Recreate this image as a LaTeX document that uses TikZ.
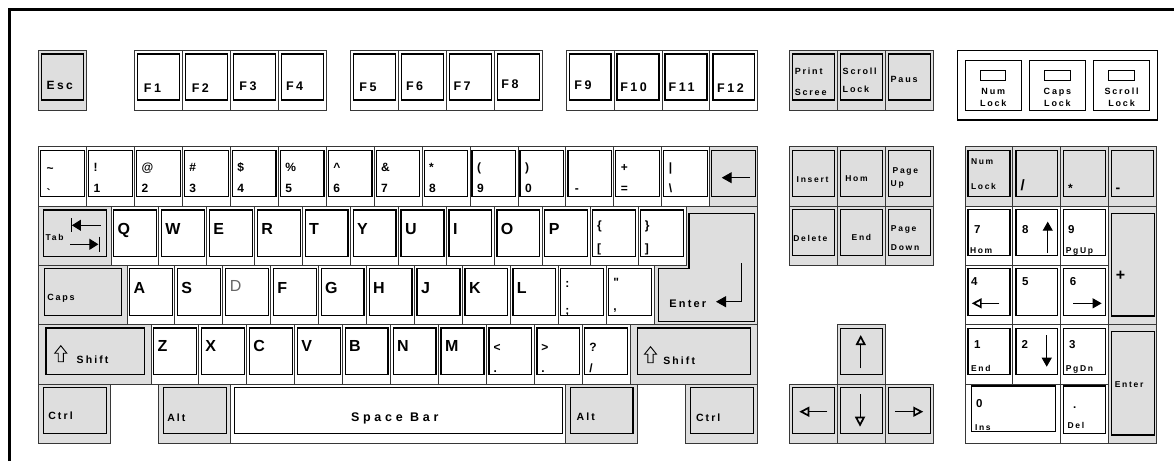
\documentclass[tikz,border=0pt]{standalone}
\usepackage{fontspec}
\setmainfont{Liberation Sans}[LetterSpace=20]
\usetikzlibrary{arrows.meta}
\definecolor{kg}{RGB}{222,222,222}
\definecolor{kline}{RGB}{55,55,55}
\newcounter{lc}
\def\U{47.93}
\def\RH{59.3}
\def\insL{3}\def\insT{3.5}\def\insR{3}\def\insB{9.5}
\newcommand\setins[4]{\def\insL{#1}\def\insT{#2}\def\insR{#3}\def\insB{#4}}
\newcommand\kb[6]{%
  \node[keyout, fill=#6, minimum width={#4pt}, minimum height={#5pt}] (#1) at ({#2},{#3}) {};
  \path[keyin, fill=#6] ([shift={(\insL,\insT)}]#1.north west) rectangle ([shift={(-\insR,-\insB)}]#1.south east);}
\newcommand\lb[5][]{\stepcounter{lc}\node[lbl=#2,#1] (t\arabic{lc}) at ([shift={(#4)}]#3.north west) {#5};}
\begin{document}
\begin{tikzpicture}[x=1pt,y=-1pt,
  keyout/.style={draw=kline, line width=0.9pt, rectangle, inner sep=0pt, outer sep=0pt, anchor=north west},
  keyin/.style={draw=black, line width=1.2pt},
  lbl/.style={inner sep=0pt, outer sep=0pt, anchor=west, font=\fontsize{#1}{#1}\selectfont\bfseries, text height={0.716*#1pt}, text depth=0pt},
  arr/.style={line width=1pt, -{Triangle[length=9pt,width=10pt]}},
  oarr/.style={line width=1pt, -{Triangle[open,length=10pt,width=10pt,line width=1.7pt]}},
  bar/.style={line width=1pt},
  ledbox/.style={draw=black, rectangle, inner sep=0pt, outer sep=0pt},
]
\useasboundingbox (0,0) rectangle (1174,461);
\fill[white] (0,0) rectangle (1174,461);
% frame
\draw[line width=3pt, line join=miter] (9.5,461) -- (9.5,9.5) -- (1174,9.5);

% ---------- top row ----------
\setins{3}{3.3}{3}{10}
\kb{esc}{38.7}{50.7}{\U}{\RH}{kg}
\lb{12}{esc}{8,35}{Esc}
\foreach \i/\dx/\dy in {1/9.3/37,2/9.3/37.3,3/9/35.3,4/7.7/35.3}
  {\kb{f\i}{134.6+(\i-1)*\U}{50.7}{\U}{\RH}{white}\lb{12.5}{f\i}{\dx,\dy}{F\i}}
\foreach \i/\dx/\dy in {5/9/36,6/7.7/35.3,7/7.3/35.3,8/7.3/33.6}
  {\kb{f\i}{350.4+(\i-5)*\U}{50.7}{\U}{\RH}{white}\lb{12.5}{f\i}{\dx,\dy}{F\i}}
\foreach \i/\dx/\dy in {9/8.3/34.8,10/6.3/36.6,11/6.7/36.6,12/7.3/37.3}
  {\kb{f\i}{566.1+(\i-9)*\U}{50.7}{\U}{\RH}{white}\lb{12.5}{f\i}{\dx,\dy}{F\i}}
\kb{prt}{789.3}{50.7}{\U}{\RH}{kg}
\lb{9}{prt}{5.5,20.3}{Print}\lb{9}{prt}{5.5,41.6}{Scree}
\kb{scrl}{789.3+\U}{50.7}{\U}{\RH}{kg}
\lb{9}{scrl}{5.5,20.3}{Scroll}\lb{9}{scrl}{5.5,38.6}{Lock}
\kb{paus}{789.3+2*\U}{50.7}{\U}{\RH}{kg}
\lb{9}{paus}{5.5,29}{Paus}

% lock indicator panel
\node[ledbox, line width=1.1pt, anchor=north west, minimum width=200pt, minimum height=69.3pt] (lp) at (957.3,50.7) {};
\foreach \i/\a/\b in {0/Num/Lock,1/Caps/Lock,2/Scroll/Lock}{
  \node[ledbox, line width=1pt, anchor=north west, minimum width=56.5pt, minimum height=50.7pt] (lbox\i) at ({965+\i*64.15},60) {};
  \node[ledbox, line width=0.9pt, anchor=north, minimum width=25.3pt, minimum height=10.7pt] (led\i) at ([yshift=-10pt]lbox\i.north) {};
  \node[lbl=9, anchor=center] (la\i) at ([yshift=-31pt]lbox\i.north) {\a};
  \node[lbl=9, anchor=center] (lbb\i) at ([yshift=-43.5pt]lbox\i.north) {\b};
}

% ---------- number row ----------
\setins{2}{4}{2.3}{9.3}
\kb{n0}{38.7}{146.7}{\U}{\RH}{white}
\lb{12}{n0}{8,21}{\textasciitilde}
\lb{12}{n0}{8,46}{\textasciigrave}
\foreach \i/\tA/\tB in {1/!/1,2/@/2,3/\#/3,4/\$/4,5/\%/5,6/\textasciicircum/6,7/\&/7,8/*/8,9/{(}/9,10/{)}/0,12/+/=,13/|/\textbackslash}
  {\kb{n\i}{38.7+\i*\U}{146.7}{\U}{\RH}{white}\lb{12}{n\i}{7,20}{\tA}\lb{12}{n\i}{7,41.5}{\tB}}
\kb{n11}{38.7+11*\U}{146.7}{\U}{\RH}{white}
\lb{12}{n11}{9,41.5}{-}
\kb{bksp}{38.7+14*\U}{146.7}{\U}{\RH}{kg}
\draw[line width=1pt, -{Triangle[length=10pt,width=11pt]}] ([shift={(40.3,31)}]bksp.north west) -- ([shift={(12,31)}]bksp.north west);

% ---------- tab row ----------
\setins{4.6}{4}{4.3}{8.7}
\kb{tab}{38.7}{206}{72.3}{\RH}{kg}
\lb{8.5}{tab}{7,31.5}{Tab}
\draw[bar] ([shift={(32.6,12.3)}]tab.north west) -- ([shift={(32.6,26.3)}]tab.north west);
\draw[line width=1pt, -{Triangle[length=9pt,width=11pt]}] ([shift={(62,19.3)}]tab.north west) -- ([shift={(33.2,19.3)}]tab.north west);
\draw[bar] ([shift={(60.3,30.7)}]tab.north west) -- ([shift={(60.3,45.7)}]tab.north west);
\draw[line width=1pt, -{Triangle[length=9pt,width=11pt]}] ([shift={(31.3,38.3)}]tab.north west) -- ([shift={(59.7,38.3)}]tab.north west);
\setins{2.5}{4}{2.6}{8.7}
\foreach \i/\c in {0/Q,1/W,2/E,3/R,4/T,5/Y,6/U,7/I,8/O,9/P}
  {\kb{k\c}{111+\i*\U}{206}{\U}{\RH}{white}\lb{16}{k\c}{6.5,23}{\c}}
\kb{lbrk}{111+10*\U}{206}{\U}{\RH}{white}
\lb{12}{lbrk}{6.7,19}{\{}\lb{12}{lbrk}{6.7,42.3}{[}
\kb{rbrk}{111+11*\U}{206}{\U}{\RH}{white}
\lb{12}{rbrk}{6.7,19}{\}}\lb{12}{rbrk}{6.7,42.3}{]}
% Enter
\path[draw=kline, line width=0.9pt, fill=kg] (686.2,206) -- (757.7,206) -- (757.7,324.7) -- (654.2,324.7) -- (654.2,265.3) -- (686.2,265.3) -- cycle;
\path[keyin, fill=kg] (689,213.3) -- (754.7,213.3) -- (754.7,321.5) -- (658.2,321.5) -- (658.2,268.3) -- (689,268.3) -- cycle;
\coordinate (entc) at (741,263.3);
\coordinate (entm) at (741,301.7);
\coordinate (entt) at (716,301.7);
\draw[line width=1pt, -{Triangle[length=10pt,width=11pt]}] (entc) -- (entm) -- (entt);
\node[lbl=11] (entl) at (669.3,303.3) {Enter};

% ---------- caps row ----------
\setins{5.6}{3.5}{5.3}{9}
\kb{caps}{38.7}{265.3}{88.3}{\RH}{kg}
\lb{9}{caps}{8.6,31.7}{Caps}
\setins{2.5}{3.5}{2.6}{9}
\foreach \i/\c in {0/A,1/S,3/F,4/G,5/H,6/J,7/K,8/L}
  {\kb{k\c}{127+\i*\U}{265.3}{\U}{\RH}{white}\lb{16}{k\c}{6.5,22}{\c}}
\kb{kD}{127+2*\U}{265.3}{\U}{\RH}{white}
\lb[font=\fontsize{16}{16}\selectfont, text=black!60]{16}{kD}{7,20.5}{D}
\kb{semi}{127+9*\U}{265.3}{\U}{\RH}{white}
\lb{12}{semi}{7,18}{:}\lb{12}{semi}{7,44.7}{;}
\kb{quot}{127+10*\U}{265.3}{\U}{\RH}{white}
\lb{12}{quot}{7,17}{\textquotedbl}\lb{12}{quot}{7,41.3}{,}

% ---------- shift row ----------
\setins{7.3}{3.3}{6.7}{9.3}
\kb{lsh}{38.7}{324.7}{112.3}{\RH}{kg}
\draw[line width=0.9pt, shift={(lsh.north west)}] (22.1,21) -- ++(6,7.5) -- ++(-3.4,0) -- ++(0,8.5) -- ++(-5.2,0) -- ++(0,-8.5) -- ++(-3.4,0) -- cycle;
\lb{10.5}{lsh}{38,35}{Shift}
\setins{2.5}{3.3}{2.6}{9.3}
\foreach \i/\c in {0/Z,1/X,2/C,3/V,4/B,5/N,6/M}
  {\kb{k\c}{151+\i*\U}{324.7}{\U}{\RH}{white}\lb{16}{k\c}{6.5,21.5}{\c}}
\foreach \i/\tA/\tB in {7/{<}/{.},8/{>}/{.},9/{?}/{/}}
  {\kb{p\i}{151+\i*\U}{324.7}{\U}{\RH}{white}\lb{12}{p\i}{7,22}{\tA}\lb{12}{p\i}{7,43.6}{\tB}}
\setins{7.5}{3.3}{7}{9.3}
\kb{rsh}{630.3}{324.7}{127.4}{\RH}{kg}
\draw[line width=0.9pt, shift={(rsh.north west)}] (20.2,22) -- ++(6,7.5) -- ++(-3.4,0) -- ++(0,8.5) -- ++(-5.2,0) -- ++(0,-8.5) -- ++(-3.4,0) -- cycle;
\lb{10.5}{rsh}{33,36.3}{Shift}

% ---------- bottom row ----------
\setins{4.6}{3.3}{4.3}{10}
\kb{lctl}{38.7}{384}{72}{\RH}{kg}
\lb{10.5}{lctl}{9.6,31.5}{Ctrl}
\kb{lalt}{158.7}{384}{72}{\RH}{kg}
\lb{10.5}{lalt}{8.6,33.5}{Alt}
\setins{3.6}{3.3}{3}{10}
\kb{space}{230.7}{384}{335}{\RH}{white}
\lb[anchor=center]{12.5}{space}{164,32.8}{\addfontfeatures{LetterSpace=30}Space Bar}
\setins{4.6}{3.3}{4.3}{10}
\kb{ralt}{565.7}{384}{71.6}{\RH}{kg}
\lb{10.5}{ralt}{11,32.7}{Alt}
\kb{rctl}{685.7}{384}{72}{\RH}{kg}
\lb{10.5}{rctl}{10.3,33.5}{Ctrl}

% ---------- navigation cluster ----------
\setins{3}{3.5}{3}{9.5}
\kb{insk}{789.3}{146.7}{\U}{\RH}{kg}
\lb{8.5}{insk}{7.4,32.3}{Insert}
\kb{homk}{789.3+\U}{146.7}{\U}{\RH}{kg}
\lb{8.5}{homk}{8.1,32}{Hom}
\kb{pgup}{789.3+2*\U}{146.7}{\U}{\RH}{kg}
\lb{8.5}{pgup}{7.5,24}{Page}\lb{8.5}{pgup}{5.5,36.3}{Up}
\kb{delk}{789.3}{206}{\U}{\RH}{kg}
\lb{8.5}{delk}{4,32.8}{Delete}
\kb{endk}{789.3+\U}{206}{\U}{\RH}{kg}
\lb{8.5}{endk}{14.5,31.3}{End}
\kb{pgdn}{789.3+2*\U}{206}{\U}{\RH}{kg}
\lb{8.5}{pgdn}{5.8,22.3}{Page}\lb{8.5}{pgdn}{5.8,41.3}{Down}

% arrow keys
\kb{upk}{789.3+\U}{324.7}{\U}{\RH}{kg}
\kb{lfk}{789.3}{384}{\U}{\RH}{kg}
\kb{dnk}{789.3+\U}{384}{\U}{\RH}{kg}
\kb{rtk}{789.3+2*\U}{384}{\U}{\RH}{kg}
\draw[oarr] ([shift={(23.5,43.6)}]upk.north west) -- ([shift={(23.5,10.3)}]upk.north west);
\draw[oarr] ([shift={(38,27.7)}]lfk.north west) -- ([shift={(10,27.7)}]lfk.north west);
\draw[oarr] ([shift={(22.8,10.3)}]dnk.north west) -- ([shift={(22.8,42.7)}]dnk.north west);
\draw[oarr] ([shift={(9.8,27.7)}]rtk.north west) -- ([shift={(38.1,27.7)}]rtk.north west);

% ---------- numeric keypad ----------
\kb{kpnl}{965}{146.7}{\U}{\RH}{kg}
\lb{8.5}{kpnl}{6,15}{Num}\lb{8.5}{kpnl}{6,39.5}{Lock}
\kb{kpsl}{965+\U}{146.7}{\U}{\RH}{kg}
\lb{15}{kpsl}{7.7,38.6}{/}
\kb{kpst}{965+2*\U}{146.7}{\U}{\RH}{kg}
\lb{12}{kpst}{7.3,41}{*}
\kb{kpmi}{965+3*\U}{146.7}{\U}{\RH}{kg}
\lb{14}{kpmi}{6.7,40.6}{-}
\kb{kp7}{965}{206}{\U}{\RH}{white}
\lb{11.5}{kp7}{9,23.7}{7}\lb{8.5}{kp7}{5,44}{Hom}
\kb{kp8}{965+\U}{206}{\U}{\RH}{white}
\lb{11.5}{kp8}{9.3,23.7}{8}
\draw[arr] ([shift={(34.8,46.7)}]kp8.north west) -- ([shift={(34.8,15.7)}]kp8.north west);
\kb{kp9}{965+2*\U}{206}{\U}{\RH}{white}
\lb{11.5}{kp9}{7.3,23.7}{9}\lb{8.5}{kp9}{5,44}{PgUp}
\kb{kp4}{965}{265.3}{\U}{\RH}{white}
\lb{11.5}{kp4}{6,16}{4}
\draw[oarr] ([shift={(34.3,38)}]kp4.north west) -- ([shift={(6.7,38)}]kp4.north west);
\kb{kp5}{965+\U}{265.3}{\U}{\RH}{white}
\lb{11.5}{kp5}{9.3,16}{5}
\kb{kp6}{965+2*\U}{265.3}{\U}{\RH}{white}
\lb{11.5}{kp6}{9,16}{6}
\draw[arr] ([shift={(12.4,38)}]kp6.north west) -- ([shift={(40.8,38)}]kp6.north west);
\kb{kp1}{965}{324.7}{\U}{\RH}{white}
\lb{11.5}{kp1}{9,19.5}{1}\lb{8.5}{kp1}{6,43.3}{End}
\kb{kp2}{965+\U}{324.7}{\U}{\RH}{white}
\lb{11.5}{kp2}{8.7,19.5}{2}
\draw[arr] ([shift={(33.8,10.3)}]kp2.north west) -- ([shift={(33.8,42)}]kp2.north west);
\kb{kp3}{965+2*\U}{324.7}{\U}{\RH}{white}
\lb{11.5}{kp3}{8.3,19.5}{3}\lb{8.5}{kp3}{5,43.3}{PgDn}
\setins{2.7}{7.3}{2.3}{8.7}
\kb{kppl}{965+3*\U}{206}{\U}{2*\RH}{kg}
\lb[anchor=center]{16}{kppl}{11.7,69}{+}
\setins{2.7}{7}{2.3}{8.3}
\kb{kpen}{965+3*\U}{324.7}{\U}{2*\RH}{kg}
\lb{8.5}{kpen}{6,59.5}{Enter}
\setins{6.7}{2}{5}{11.6}
\kb{kp0}{965}{384}{2*\U}{\RH}{white}
\lb{11.5}{kp0}{11,19.7}{0}\lb{8.5}{kp0}{10,43.5}{Ins}
\setins{3}{2}{3}{10}
\kb{kpdt}{965+2*\U}{384}{\U}{\RH}{white}
\lb{11.5}{kpdt}{12.3,20}{.}\lb{8.5}{kpdt}{6.7,41}{Del}
\end{tikzpicture}
\end{document}
